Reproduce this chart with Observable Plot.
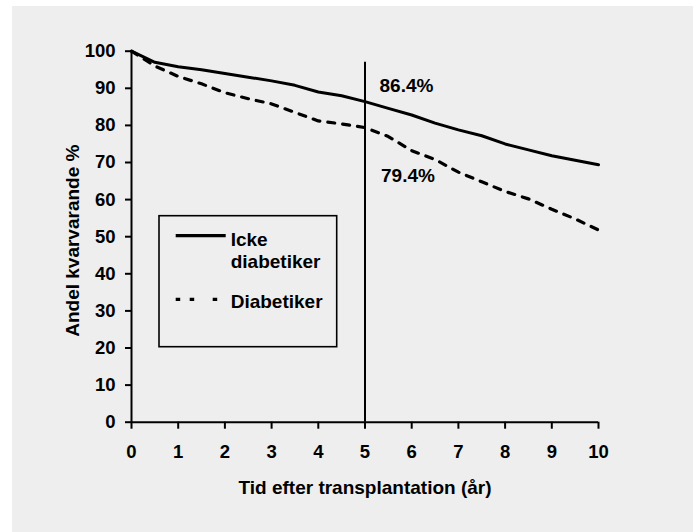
<!DOCTYPE html>
<html>
<head>
<meta charset="utf-8">
<script src="https://cdn.jsdelivr.net/npm/d3@7"></script>
<script src="https://cdn.jsdelivr.net/npm/@observablehq/plot@0.6"></script>
<style>
  html, body { margin: 0; padding: 0; background: #ffffff; }
  #panel {
    position: absolute; left: 12px; top: 6px; width: 681px; height: 526px;
    background: #eeeeee; overflow: hidden;
  }
  #panel svg { position: absolute; left: 0; top: 0; }
</style>
</head>
<body>
<div id="panel"></div>
<script>
// Survival after kidney transplantation, by diabetes status
const years = [0, 0.5, 1, 1.5, 2, 2.5, 3, 3.5, 4, 4.5, 5, 5.5, 6, 6.5, 7, 7.5, 8, 8.5, 9, 9.5, 10];
const ickeDiabetiker = [100, 97.0, 95.8, 95.0, 94.0, 93.0, 92.0, 90.8, 89.0, 88.0, 86.4, 84.6, 82.8, 80.6, 78.8, 77.2, 75.0, 73.4, 71.8, 70.6, 69.4];
const diabetiker = [100, 96.0, 93.2, 91.2, 88.8, 87.2, 85.8, 83.5, 81.2, 80.4, 79.4, 77.0, 73.2, 70.8, 67.4, 64.8, 62.2, 60.2, 57.4, 54.8, 51.8];

const seriesNames = ["Icke diabetiker", "Diabetiker"];
const fiveYear = 5;
const fiveYearValues = [86.4, 79.4];
const fiveYearLabels = ["86.4%", "79.4%"];

const xTicks = [0, 1, 2, 3, 4, 5, 6, 7, 8, 9, 10];
const yTicks = [0, 10, 20, 30, 40, 50, 60, 70, 80, 90, 100];
const xTitle = "Tid efter transplantation (år)";
const yTitle = "Andel kvarvarande %";

const rows = [];
years.forEach((t, i) => {
  rows.push({year: t, value: ickeDiabetiker[i], series: seriesNames[0]});
  rows.push({year: t, value: diabetiker[i], series: seriesNames[1]});
});

const font = "'Liberation Sans', Arial, Helvetica, sans-serif";
const fs = 19;
const W = 681, H = 526;

const chart = Plot.plot({
  width: W,
  height: H,
  marginLeft: 119,
  marginRight: 95,
  marginTop: 44.7,
  marginBottom: 110.3,
  style: {background: "transparent", fontFamily: font, fontSize: fs + "px", fontWeight: "bold", color: "#000"},
  x: {domain: [0, 10]},
  y: {domain: [0, 100]},
  marks: [
    Plot.axisX(xTicks, {tickSize: 7, tickPadding: 16, strokeWidth: 2, fontSize: 18.5, label: null}),
    Plot.axisY(yTicks, {tickSize: 6, tickPadding: 10, strokeWidth: 2, fontSize: 18.5, label: null}),
    Plot.ruleY([0], {x1: 0, x2: 10, strokeWidth: 2}),
    Plot.ruleX([0], {y1: 0, y2: 100, strokeWidth: 2}),
    // five-year marker
    Plot.ruleX([fiveYear], {y1: 0, y2: 97, strokeWidth: 2}),
    Plot.line(rows.filter(d => d.series === seriesNames[0]), {
      x: "year", y: "value", stroke: "#000", strokeWidth: 3, curve: "linear"
    }),
    Plot.line(rows.filter(d => d.series === seriesNames[1]), {
      x: "year", y: "value", stroke: "#000", strokeWidth: 3.2, strokeDasharray: "7,8", curve: "linear"
    }),
    Plot.text([fiveYearLabels[0]], {
      x: () => fiveYear, y: () => fiveYearValues[0], text: d => d,
      textAnchor: "start", dx: 14.5, dy: -16, fontSize: fs, fontWeight: "bold", fill: "#000"
    }),
    Plot.text([fiveYearLabels[1]], {
      x: () => fiveYear, y: () => fiveYearValues[1], text: d => d,
      textAnchor: "start", dx: 16, dy: 48, fontSize: fs, fontWeight: "bold", fill: "#000"
    }),
    Plot.text([xTitle], {
      frameAnchor: "bottom", lineAnchor: "middle", textAnchor: "middle",
      dy: 66, fontSize: fs, fontWeight: "bold", fill: "#000"
    }),
    Plot.text([yTitle], {
      frameAnchor: "left", rotate: -90, textAnchor: "middle", lineAnchor: "middle",
      dx: -59, dy: 4, fontSize: fs, fontWeight: "bold", fill: "#000"
    })
  ]
});

const panel = document.getElementById("panel");
panel.appendChild(chart);

// legend box
const ns = "http://www.w3.org/2000/svg";
const leg = d3.select(panel).append("svg")
  .attr("xmlns", ns)
  .attr("width", W).attr("height", H)
  .style("font-family", font).style("font-size", fs + "px").style("font-weight", "bold");

leg.append("rect")
  .attr("x", 147).attr("y", 209.7).attr("width", 177.7).attr("height", 131)
  .attr("fill", "none").attr("stroke", "#000").attr("stroke-width", 1.6);

leg.append("line")
  .attr("x1", 163.7).attr("x2", 213.7).attr("y1", 229.7).attr("y2", 229.7)
  .attr("stroke", "#000").attr("stroke-width", 3.2);

leg.append("line")
  .attr("x1", 163.7).attr("x2", 206.3).attr("y1", 293.3).attr("y2", 293.3)
  .attr("stroke", "#000").attr("stroke-width", 3.2)
  .attr("stroke-dasharray", "4.5 9.5 4.5 18.5");

const legText = [
  {t: "Icke", y: 233},
  {t: "diabetiker", y: 255},
  {t: seriesNames[1], y: 295.7}
];
leg.selectAll("text.lab").data(legText).join("text")
  .attr("class", "lab")
  .attr("x", 218.7).attr("y", d => d.y).attr("dy", "0.35em")
  .attr("fill", "#000")
  .text(d => d.t);
</script>
</body>
</html>
